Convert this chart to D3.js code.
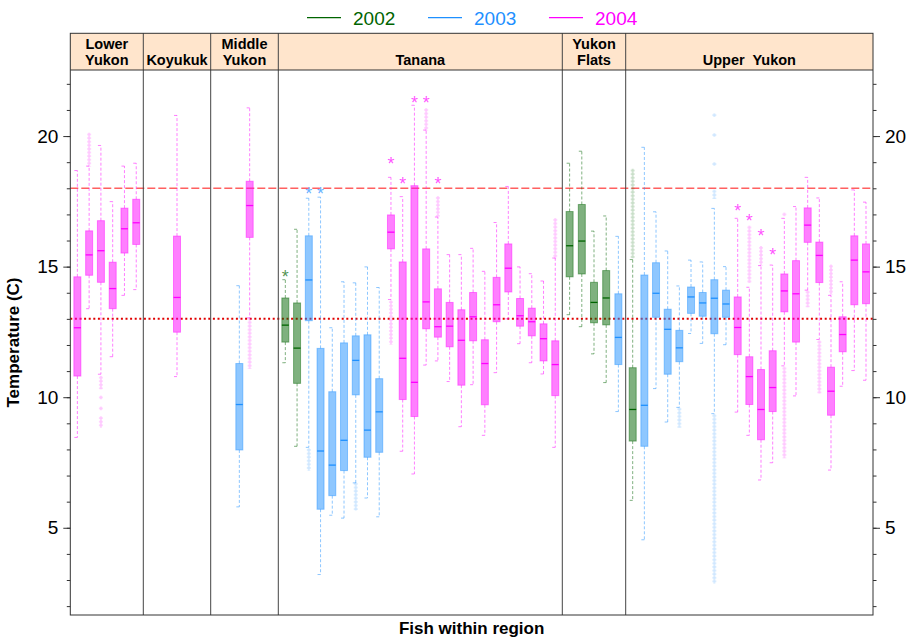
<!DOCTYPE html>
<html>
<head>
<meta charset="utf-8">
<script src="https://cdn.jsdelivr.net/npm/d3@7"></script>
<style>
  body { margin: 0; background: #fff; }
  svg { display: block; font-family: "Liberation Sans", Arial, sans-serif; }
</style>
</head>
<body>
<div id="chart"></div>
<script>
// ---- data ----
var regions = ["LY", "KO", "MY", "TA", "YF", "UY"];
var regionLabels = [["Lower", "Yukon"], ["", "Koyukuk"], ["Middle", "Yukon"], ["", "Tanana"], ["Yukon", "Flats"], ["", "Upper  Yukon"]];
var years = ["2002", "2003", "2004"];
var yearColors = ["#006400", "#1E90FF", "#FF00FF"];

var fishRegion = [
  "LY","LY","LY","LY","LY","LY",
  "KO",
  "MY","MY",
  "TA","TA","TA","TA","TA","TA","TA","TA","TA","TA","TA","TA","TA","TA","TA","TA","TA","TA","TA","TA","TA","TA","TA","TA",
  "YF","YF","YF","YF","YF",
  "UY","UY","UY","UY","UY","UY","UY","UY","UY","UY","UY","UY","UY","UY","UY","UY","UY","UY","UY","UY","UY"
];
var fishYear = [
  "2004","2004","2004","2004","2004","2004",
  "2004",
  "2003","2004",
  "2002","2002","2003","2003","2003","2003","2003","2003","2003","2004","2004","2004","2004","2004","2004","2004","2004","2004","2004","2004","2004","2004","2004","2004",
  "2002","2002","2002","2002","2003",
  "2002","2003","2003","2003","2003","2003","2003","2003","2003","2004","2004","2004","2004","2004","2004","2004","2004","2004","2004","2004","2004"
];
var whiskerLow = [
  8.46, 13.39, 10.88, 11.55, 13.90, 14.12,
  10.79,
  5.80, 13.04,
  11.32, 8.12, 8.08, 3.21, 5.48, 5.37, 6.72, 6.14, 5.42, 13.74, 7.93, 7.06, 11.23, 11.39, 10.60, 8.87, 10.48, 8.54, 10.94, 13.00, 12.05, 11.32, 10.89, 8.08,
  13.16, 12.70, 11.66, 10.56, 9.45,
  6.05, 4.54, 10.33, 9.05, 9.61, 12.44, 12.06, 9.37, 12.01, 9.43, 8.54, 6.83, 7.49, 11.20, 10.05, 14.10, 12.21, 7.21, 10.42, 11.02, 10.65
];
var boxLow = [
  10.81, 14.67, 14.40, 13.39, 15.52, 15.85,
  12.49,
  7.98, 16.12,
  12.11, 10.53, 12.93, 5.71, 6.23, 7.19, 10.09, 7.70, 7.89, 15.68, 9.91, 9.26, 12.62, 12.30, 11.93, 10.46, 12.16, 9.71, 12.89, 14.03, 12.72, 12.35, 11.39, 10.06,
  14.61, 14.72, 12.85, 12.77, 11.25,
  8.32, 8.12, 13.06, 10.88, 11.36, 13.21, 13.10, 12.43, 13.06, 11.63, 9.72, 8.37, 9.45, 13.27, 12.11, 15.93, 14.39, 9.31, 11.74, 13.54, 13.58
];
var medians = [
  12.66, 15.45, 15.61, 14.16, 16.45, 16.68,
  13.82,
  9.72, 17.34,
  12.76, 11.88, 14.49, 7.94, 7.40, 8.35, 11.41, 8.74, 9.44, 16.32, 11.49, 10.57, 13.65, 12.70, 12.72, 12.18, 13.08, 11.29, 13.54, 14.94, 13.12, 12.89, 12.24, 11.25,
  15.80, 15.98, 13.63, 13.80, 12.29,
  9.53, 9.69, 13.98, 12.60, 11.89, 13.84, 13.61, 13.79, 13.57, 12.67, 10.79, 9.53, 10.37, 14.07, 13.96, 16.59, 15.43, 10.23, 12.40, 15.25, 14.80
];
var boxHigh = [
  14.61, 16.37, 16.76, 15.17, 17.24, 17.58,
  16.17,
  11.29, 18.27,
  13.80, 13.61, 16.18, 11.87, 10.21, 12.08, 12.35, 12.39, 10.71, 16.98, 15.18, 18.10, 15.68, 14.15, 13.63, 13.35, 14.01, 12.20, 14.59, 15.87, 13.78, 13.41, 12.81, 12.16,
  17.11, 17.38, 14.40, 14.85, 13.96,
  11.13, 14.68, 15.15, 13.37, 12.56, 14.22, 14.01, 14.50, 14.10, 13.84, 11.55, 11.06, 11.78, 14.72, 15.23, 17.25, 15.94, 11.15, 13.08, 16.18, 15.87
];
var whiskerHigh = [
  18.68, 18.85, 19.64, 17.49, 18.85, 18.96,
  20.79,
  14.27, 21.08,
  14.50, 16.43, 17.62, 17.66, 12.66, 14.42, 14.38, 14.99, 14.20, 18.42, 17.68, 21.18, 20.23, 16.90, 15.46, 15.46, 15.70, 14.82, 16.69, 18.07, 14.99, 14.73, 14.45, 15.33,
  18.96, 19.42, 16.36, 16.94, 16.16,
  15.27, 19.57, 17.10, 15.60, 14.26, 15.25, 15.18, 17.23, 15.00, 16.85, 14.21, 15.04, 15.06, 16.85, 17.30, 18.42, 17.63, 13.90, 14.42, 17.94, 17.47
];
// outlying points: [fish, lowest, highest] (a single point when equal)
var outlierRuns = [
  ["LY2", 18.90, 20.06],
  ["LY3", 10.37, 10.75], ["LY3", 9.99, 9.99], ["LY3", 9.57, 9.57], ["LY3", 8.90, 9.20],
  ["MY2", 11.15, 13.00],
  ["TA3", 7.25, 7.98],
  ["TA7", 5.73, 6.68],
  ["TA10", 12.08, 13.64],
  ["TA13", 20.27, 21.00],
  ["TA14", 16.98, 17.63],
  ["TA24", 15.39, 16.79],
  ["UY1", 15.39, 18.68],
  ["UY5", 8.90, 9.54],
  ["UY8", 20.80, 20.80], ["UY8", 20.04, 20.04], ["UY8", 18.93, 18.93], ["UY8", 17.66, 17.88], ["UY8", 2.93, 9.29],
  ["UY11", 14.44, 16.50],
  ["UY12", 15.11, 15.72],
  ["UY14", 17.00, 17.00], ["UY14", 7.73, 11.10],
  ["UY16", 13.51, 14.02],
  ["UY17", 10.21, 12.11],
  ["UY18", 14.00, 15.01]
];
var starFish = ["TA1", "TA3", "TA4", "TA10", "TA11", "TA12", "TA13", "TA14", "UY10", "UY11", "UY12", "UY13"];
var starValue = [14.76, 17.94, 17.94, 19.08, 18.32, 21.41, 21.41, 18.32, 17.29, 16.91, 16.34, 15.61];
var yTicks = [2, 3, 4, 5, 6, 7, 8, 9, 10, 11, 12, 13, 14, 15, 16, 17, 18, 19, 20, 21, 22];
var yLabels = [5, 10, 15, 20];
var refDashed = 18, refDotted = 13;

// ---- layout ----
var width = 909, height = 638;
var left = 70.3, right = 873, stripTop = 33.3, plotTop = 70, plotBottom = 615;
var regionEdges = [left, 143.3, 210.7, 278.3, 562.3, 625.7, right];
var regionPadding = [0.6, 0.6, 2.77, 0.6, 0.6, 0.6];
var boxW = 7;

var svg = d3.select("#chart").append("svg").attr("width", width).attr("height", height);

// fish ids like "TA12"
var counter = {};
var fishIds = fishRegion.map(function (r) { counter[r] = (counter[r] || 0) + 1; return r + counter[r]; });
var fishIndex = {};
fishIds.forEach(function (id, i) { fishIndex[id] = i; });

var regionScale = {};
regions.forEach(function (r, i) {
  var ids = fishIds.filter(function (d, j) { return fishRegion[j] === r; });
  regionScale[r] = d3.scalePoint().domain(ids).range([regionEdges[i], regionEdges[i + 1]]).padding(regionPadding[i]);
});
function fx(id) { return regionScale[fishRegion[fishIndex[id]]](id); }

var y = d3.scaleLinear().domain([1.66, 22.53]).range([plotBottom, plotTop]);
var color = d3.scaleOrdinal().domain(years).range(yearColors);

// outlier dot patterns
var defs = svg.append("defs");
years.forEach(function (yr) {
  var p = defs.append("pattern").attr("id", "dots" + yr).attr("patternUnits", "userSpaceOnUse")
    .attr("width", 6).attr("height", 3.6);
  p.append("circle").attr("cx", 3).attr("cy", 1.8).attr("r", 1.2)
    .attr("fill", "none").attr("stroke", color(yr)).attr("stroke-opacity", 0.35).attr("stroke-width", 0.8);
});

// reference lines
svg.append("line").attr("x1", left).attr("x2", right).attr("y1", y(refDashed)).attr("y2", y(refDashed))
  .attr("stroke", "#ff6060").attr("stroke-width", 1.4).attr("stroke-dasharray", "8,3");
svg.append("line").attr("x1", left).attr("x2", right).attr("y1", y(refDotted)).attr("y2", y(refDotted))
  .attr("stroke", "#e00000").attr("stroke-width", 2).attr("stroke-dasharray", "2,2.6");

// region separators
regionEdges.slice(1, -1).forEach(function (x) {
  svg.append("line").attr("x1", x).attr("x2", x).attr("y1", stripTop).attr("y2", plotBottom)
    .attr("stroke", "#444").attr("stroke-width", 1);
});

var g = svg.append("g");

// whiskers
fishIds.forEach(function (id, i) {
  var cx = fx(id), c = color(fishYear[i]);
  var w = g.append("g").attr("stroke", c).attr("stroke-opacity", 0.5).attr("fill", "none");
  w.append("line").attr("x1", cx).attr("x2", cx).attr("y1", y(boxHigh[i])).attr("y2", y(whiskerHigh[i]))
    .attr("stroke-dasharray", "3,2");
  w.append("line").attr("x1", cx).attr("x2", cx).attr("y1", y(boxLow[i])).attr("y2", y(whiskerLow[i]))
    .attr("stroke-dasharray", "3,2");
  w.append("line").attr("x1", cx - 3).attr("x2", cx).attr("y1", y(whiskerHigh[i])).attr("y2", y(whiskerHigh[i]));
  w.append("line").attr("x1", cx - 3).attr("x2", cx).attr("y1", y(whiskerLow[i])).attr("y2", y(whiskerLow[i]));
});

// outliers
outlierRuns.forEach(function (o) {
  var i = fishIndex[o[0]], cx = fx(o[0]);
  var top = y(o[2]) - 1.8, h = y(o[1]) - y(o[2]) + 3.6;
  g.append("g").attr("transform", "translate(" + (cx - 3) + "," + top + ")")
    .append("rect").attr("width", 6).attr("height", h).attr("fill", "url(#dots" + fishYear[i] + ")");
});

// boxes and medians
fishIds.forEach(function (id, i) {
  var cx = fx(id), c = color(fishYear[i]);
  g.append("rect").attr("x", cx - boxW / 2).attr("width", boxW)
    .attr("y", y(boxHigh[i])).attr("height", y(boxLow[i]) - y(boxHigh[i]))
    .attr("fill", c).attr("fill-opacity", 0.5).attr("stroke", c).attr("stroke-opacity", 0.45);
  g.append("line").attr("x1", cx - boxW / 2).attr("x2", cx + boxW / 2)
    .attr("y1", y(medians[i])).attr("y2", y(medians[i]))
    .attr("stroke", c).attr("stroke-width", 1.3);
});

// asterisks
starFish.forEach(function (id, k) {
  var i = fishIndex[id];
  g.append("text").attr("x", fx(id)).attr("y", y(starValue[k]) + 10)
    .attr("text-anchor", "middle").attr("font-size", 18)
    .attr("fill", color(fishYear[i])).attr("fill-opacity", 0.7).text("*");
});

// strip
svg.append("rect").attr("x", left).attr("y", stripTop).attr("width", right - left).attr("height", plotTop - stripTop)
  .attr("fill", "#FFE5CC");
regionEdges.slice(1, -1).forEach(function (x) {
  svg.append("line").attr("x1", x).attr("x2", x).attr("y1", stripTop).attr("y2", plotTop)
    .attr("stroke", "#444");
});
svg.append("line").attr("x1", left).attr("x2", right).attr("y1", plotTop).attr("y2", plotTop).attr("stroke", "#333");
regions.forEach(function (r, i) {
  var cx = (regionEdges[i] + regionEdges[i + 1]) / 2;
  var t = svg.append("text").attr("x", cx).attr("text-anchor", "middle")
    .attr("font-size", 14.5).attr("font-weight", "bold").style("white-space", "pre");
  t.append("tspan").attr("x", cx).attr("y", 48.5).text(regionLabels[i][0]);
  t.append("tspan").attr("x", cx).attr("y", 65).text(regionLabels[i][1]);
});

// frame
svg.append("rect").attr("x", left).attr("y", stripTop).attr("width", right - left).attr("height", plotBottom - stripTop)
  .attr("fill", "none").attr("stroke", "#333");

// axes
var yPanel = d3.scaleLinear().domain(y.domain()).range(y.range());
function drawAxis(axisFn, x) {
  var minor = svg.append("g").attr("transform", "translate(" + x + ",0)")
    .call(axisFn(yPanel).tickValues(yTicks).tickSize(3.5).tickFormat(""));
  minor.select(".domain").remove();
  var major = svg.append("g").attr("transform", "translate(" + x + ",0)")
    .call(axisFn(yPanel).tickValues(yLabels).tickSize(7).tickPadding(5));
  major.select(".domain").remove();
  major.selectAll("text").attr("font-size", 19).attr("font-family", "'Liberation Sans', Arial, sans-serif").attr("fill", "#000");
  svg.selectAll(".tick line").attr("stroke", "#333");
}
drawAxis(d3.axisLeft, left);
drawAxis(d3.axisRight, right);

svg.append("text").attr("transform", "translate(19," + ((plotTop + plotBottom) / 2) + ") rotate(-90)")
  .attr("text-anchor", "middle").attr("font-size", 17).attr("font-weight", "bold").text("Temperature (C)");
svg.append("text").attr("x", (left + right) / 2).attr("y", 634)
  .attr("text-anchor", "middle").attr("font-size", 17).attr("font-weight", "bold").text("Fish within region");

// legend
var legend = svg.append("g");
years.forEach(function (yr, i) {
  var lx = 307 + i * 121;
  legend.append("line").attr("x1", lx).attr("x2", lx + 34).attr("y1", 17.7).attr("y2", 17.7)
    .attr("stroke", color(yr)).attr("stroke-width", 1.3);
  legend.append("text").attr("x", lx + 46).attr("y", 25).attr("font-size", 19)
    .attr("fill", color(yr)).text(yr);
});
</script>
</body>
</html>
